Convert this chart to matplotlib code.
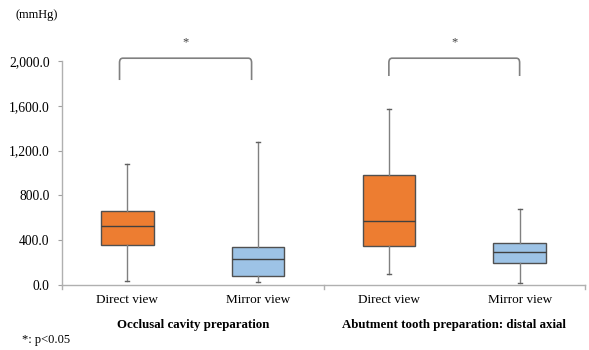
import matplotlib
matplotlib.use("Agg")
import matplotlib.pyplot as plt
from matplotlib.ticker import FuncFormatter
from matplotlib.path import Path
from matplotlib.patches import PathPatch

plt.rcParams['font.family'] = ['Liberation Serif', 'DejaVu Serif']

# Box-plot summary statistics (mmHg)
groups = ["Occlusal cavity preparation", "Abutment tooth preparation: distal axial"]
conditions = ["Direct view", "Mirror view", "Direct view", "Mirror view"]
whisker_low = [33, 24, 101, 18]
q1 = [357, 80, 351, 196]
median = [530, 229, 574, 292]
q3 = [663, 337, 978, 372]
whisker_high = [1080, 1274, 1574, 681]
fill_colors = ["#ED7D31", "#9DC3E6", "#ED7D31", "#9DC3E6"]
y_ticks = [0, 400, 800, 1200, 1600, 2000]
significance = ["*", "*"]

fig = plt.figure(figsize=(5.89, 3.5), dpi=100)
ax = fig.add_axes([62 / 589, 1 - 285 / 350, (585 - 62) / 589, (285 - 61) / 350])

positions = list(range(len(conditions)))
stats = []
for i in positions:
    stats.append(dict(whislo=whisker_low[i], q1=q1[i], med=median[i],
                      q3=q3[i], whishi=whisker_high[i], fliers=[]))

bp = ax.bxp(stats, positions=positions, widths=0.4, patch_artist=True,
            showfliers=False, capwidths=0.03,
            boxprops=dict(edgecolor="#505050", linewidth=1.0),
            medianprops=dict(color="#404040", linewidth=1.0),
            whiskerprops=dict(color="#808080", linewidth=1.0),
            capprops=dict(color="#606060", linewidth=1.0))
for patch, c in zip(bp["boxes"], fill_colors):
    patch.set_facecolor(c)

ax.set_xlim(-0.5, len(conditions) - 0.5)
ax.set_ylim(0, 2000)
ax.set_yticks(y_ticks)
ax.yaxis.set_major_formatter(FuncFormatter(lambda v, p: f"{v:,.1f}"))
ax.tick_params(axis="y", labelsize=9.8, length=3, color="#a0a0a0", pad=6)
ax.set_xticks([])

for side in ("top", "right"):
    ax.spines[side].set_visible(False)
for side in ("left", "bottom"):
    ax.spines[side].set_color("#b0b0b0")
    ax.spines[side].set_linewidth(1.0)

# Category labels and group labels below the axis
trans = ax.get_xaxis_transform()
for x, lab in zip(positions, conditions):
    ax.text(x, -0.065, lab, transform=trans, ha="center", va="center", fontsize=9.5)
for g, lab in enumerate(groups):
    ax.text(2 * g + 0.5, -0.18, lab, transform=trans, ha="center", va="center",
            fontsize=9.3, fontweight="bold")
# Group separator ticks
for xb in (-0.5, 1.5, 3.5):
    ax.plot([xb, xb], [0, -0.02], transform=trans, color="#b0b0b0", lw=1.0, clip_on=False)

# Significance brackets with rounded corners
bracket_x = [(-0.06, 0.95), (2.0, 3.0)]
bracket_bottom = [1830, 1866]
bracket_top = 2025
rx, ry = 0.025, 40
for g, mark in enumerate(significance):
    x0, x1 = bracket_x[g]
    yb = bracket_bottom[g]
    verts = [(x0, yb), (x0, bracket_top - ry), (x0, bracket_top), (x0 + rx, bracket_top),
             (x1 - rx, bracket_top), (x1, bracket_top), (x1, bracket_top - ry), (x1, yb)]
    codes = [Path.MOVETO, Path.LINETO, Path.CURVE3, Path.CURVE3,
             Path.LINETO, Path.CURVE3, Path.CURVE3, Path.LINETO]
    ax.add_patch(PathPatch(Path(verts, codes), facecolor="none", edgecolor="#808080",
                           lw=1.2, clip_on=False))
    ax.text((x0 + x1) / 2, 2170, mark, ha="center", va="center", fontsize=9, color="#404040")

fig.text(16 / 589, 1 - 15 / 350, "(mmHg)", ha="left", va="center", fontsize=9)
fig.text(22 / 589, 1 - 340 / 350, "*: p<0.05", ha="left", va="center", fontsize=9)

fig.savefig("out.png", dpi=100)
